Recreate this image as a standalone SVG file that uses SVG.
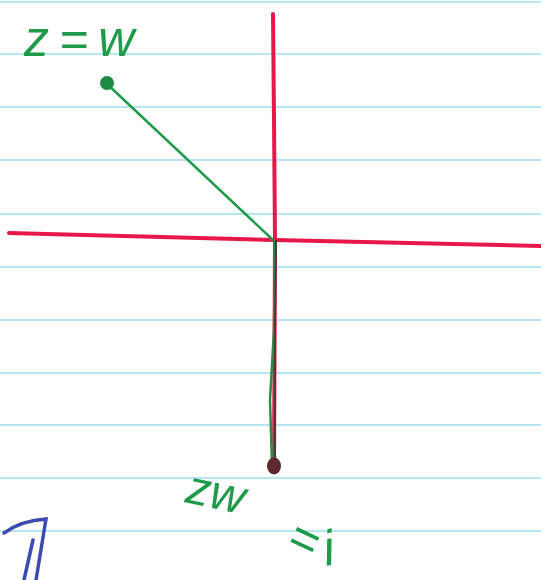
<svg xmlns="http://www.w3.org/2000/svg" width="541" height="580" viewBox="0 0 541 580">
<style>
.rule{stroke:#9fdcec;stroke-width:1.5}
.axis{stroke:#e8174a;stroke-width:4;fill:none;stroke-linecap:round}
.ink{fill:#1f9a4a;font-family:"Liberation Sans",sans-serif;font-style:italic}
</style>
<rect width="541" height="580" fill="#ffffff"/>
<g id="paper">
<line class="rule" x1="0" y1="2" x2="541" y2="2"/>
<line class="rule" x1="0" y1="54" x2="541" y2="54"/>
<line class="rule" x1="0" y1="107" x2="541" y2="107"/>
<line class="rule" x1="0" y1="160" x2="541" y2="160"/>
<line class="rule" x1="0" y1="214" x2="541" y2="214"/>
<line class="rule" x1="0" y1="267" x2="541" y2="267"/>
<line class="rule" x1="0" y1="320" x2="541" y2="320"/>
<line class="rule" x1="0" y1="373" x2="541" y2="373"/>
<line class="rule" x1="0" y1="425" x2="541" y2="425"/>
<line class="rule" x1="0" y1="478" x2="541" y2="478"/>
<line class="rule" x1="0" y1="531" x2="541" y2="531"/>
</g>
<g id="connectors">
<path class="axis" d="M273 14 L274 120 L275 240 L274 470"/>
<path class="axis" d="M9 233 L275 240 L541 246"/>
<line x1="106" y1="83" x2="273" y2="240" stroke="#1f9a4a" stroke-width="2.5"/>
<path d="M275 240 L274 330 L270 400 L272 465" stroke="#2f8a45" stroke-width="2.5" fill="none"/>
<path d="M276 240 L275 330 L275 465" stroke="#4a3a3a" stroke-width="2" fill="none"/>
</g>
<g id="w-point">
<circle cx="107" cy="83" r="7" fill="#1f8a45"/>
</g>
<g id="zw-point">
<ellipse cx="274" cy="466" rx="7" ry="8.5" fill="#5a2a30"/>
</g>
<g id="label-z-eq-w">
<text class="ink" x="24" y="56" font-size="50" letter-spacing="10">z=w</text>
</g>
<g id="label-zw-eq-i">
<text class="ink" x="184" y="502" font-size="48" transform="rotate(12 184 502)">zw</text>
<text class="ink" x="284" y="548" font-size="50" transform="rotate(25 284 548)">=</text>
<text class="ink" x="326" y="566" font-size="50" transform="rotate(-10 326 566)">i</text>
</g>
<g id="margin-mark">
<path d="M4 533 C15 525 30 520 46 519 L36 580 M33 540 L24 580" stroke="#3d4bb0" stroke-width="3.5" fill="none" stroke-linecap="round"/>
</g>
</svg>
